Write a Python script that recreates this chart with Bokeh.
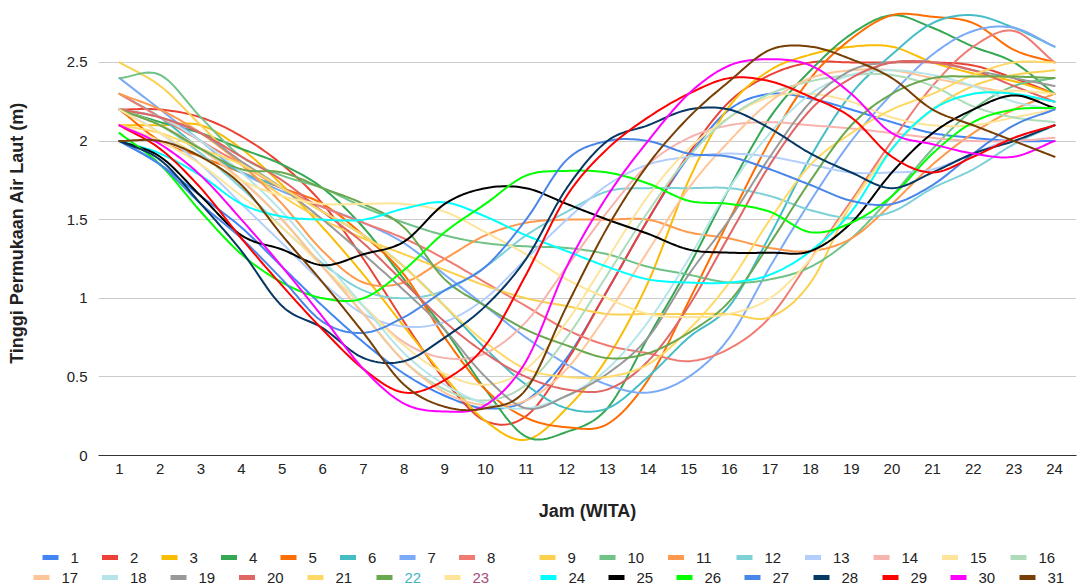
import numpy as np
from bokeh.plotting import figure
from bokeh.models import Range1d, FixedTicker, ColumnDataSource
from bokeh.layouts import column
from bokeh.embed import file_html
from bokeh.resources import INLINE
from bokeh.core.properties import value

# ---------------- data ----------------
HOURS = list(range(1, 25))
DAYS = [str(i) for i in range(1, 32)]
Y_TICKS = [0, 0.5, 1, 1.5, 2, 2.5]
Y_TICK_LABELS = ["0", "0.5", "1", "1.5", "2", "2.5"]

COLORS = ["#4285F4", "#EA4335", "#FBBC04", "#34A853", "#FF6D01", "#46BDC6", "#7BAAF7",
          "#F07B72", "#FCD04F", "#71C287", "#FF994D", "#7ED1D7", "#B3CEFB", "#F7B4AE",
          "#FDE49B", "#AEDCBA", "#FFC599", "#B5E5E8", "#999999", "#E06666", "#FFD966",
          "#6AA84F", "#FFE599", "#00FFFF", "#000000", "#00FF00", "#4A86E8", "#073763",
          "#FF0000", "#FF00FF", "#783F04"]

d01 = [2.00, 1.85, 1.65, 1.45, 1.20, 0.95, 0.72, 0.52, 0.38, 0.30, 0.35, 0.62, 1.05, 1.50, 1.90, 2.20, 2.30, 2.27, 2.20, 2.12, 2.05, 2.02, 2.00, 2.00]
d02 = [2.20, 2.20, 2.15, 2.03, 1.85, 1.60, 1.25, 0.85, 0.48, 0.22, 0.25, 0.60, 1.05, 1.50, 1.92, 2.25, 2.42, 2.50, 2.50, 2.50, 2.50, 2.48, 2.40, 2.30]
d03 = [2.10, 2.10, 2.10, 1.95, 1.72, 1.45, 1.15, 0.82, 0.50, 0.22, 0.10, 0.30, 0.62, 1.10, 1.75, 2.22, 2.45, 2.55, 2.60, 2.60, 2.50, 2.43, 2.38, 2.30]
d04 = [2.20, 2.12, 2.05, 1.95, 1.85, 1.70, 1.45, 1.12, 0.80, 0.42, 0.12, 0.15, 0.30, 0.75, 1.20, 1.70, 2.15, 2.45, 2.68, 2.80, 2.72, 2.60, 2.50, 2.30]
d05 = [2.20, 2.00, 1.90, 1.80, 1.70, 1.60, 1.40, 1.15, 0.75, 0.42, 0.24, 0.18, 0.20, 0.48, 0.98, 1.50, 2.00, 2.40, 2.65, 2.80, 2.79, 2.75, 2.58, 2.50]
d06 = [2.30, 2.15, 1.95, 1.80, 1.70, 1.55, 1.40, 1.20, 0.95, 0.68, 0.45, 0.30, 0.30, 0.50, 0.75, 0.95, 1.40, 1.90, 2.30, 2.55, 2.75, 2.80, 2.72, 2.60]
d07 = [2.40, 2.20, 2.00, 1.80, 1.68, 1.58, 1.48, 1.35, 1.15, 0.95, 0.75, 0.58, 0.45, 0.40, 0.50, 0.75, 1.20, 1.62, 2.00, 2.30, 2.55, 2.70, 2.72, 2.60]
d08 = [2.30, 2.15, 2.00, 1.85, 1.70, 1.58, 1.48, 1.38, 1.25, 1.10, 0.95, 0.80, 0.70, 0.65, 0.60, 0.68, 0.88, 1.25, 1.62, 2.00, 2.35, 2.60, 2.70, 2.50]
d09 = [2.50, 2.35, 2.10, 1.85, 1.65, 1.50, 1.38, 1.28, 1.18, 1.08, 1.00, 0.95, 0.90, 0.90, 0.90, 0.90, 0.88, 1.10, 1.60, 1.95, 2.20, 2.35, 2.42, 2.45]
d10 = [2.40, 2.42, 2.15, 1.90, 1.78, 1.70, 1.58, 1.48, 1.40, 1.35, 1.33, 1.32, 1.28, 1.20, 1.15, 1.10, 1.12, 1.20, 1.38, 1.65, 1.95, 2.20, 2.35, 2.40]
d11 = [2.30, 2.20, 2.05, 1.85, 1.60, 1.30, 1.10, 1.10, 1.25, 1.40, 1.48, 1.50, 1.50, 1.50, 1.42, 1.38, 1.32, 1.30, 1.38, 1.60, 1.85, 2.05, 2.20, 2.30]
d12 = [2.20, 2.10, 1.92, 1.70, 1.45, 1.22, 1.05, 1.00, 1.05, 1.20, 1.40, 1.55, 1.68, 1.70, 1.70, 1.70, 1.65, 1.56, 1.51, 1.55, 1.70, 1.82, 1.98, 2.10]
d13 = [2.20, 2.05, 1.85, 1.60, 1.35, 1.10, 0.90, 0.82, 0.85, 1.00, 1.25, 1.50, 1.72, 1.85, 1.90, 1.92, 1.90, 1.85, 1.80, 1.80, 1.82, 1.92, 2.02, 2.10]
d14 = [2.20, 2.10, 1.95, 1.75, 1.50, 1.20, 0.95, 0.72, 0.62, 0.65, 0.85, 1.20, 1.55, 1.85, 2.02, 2.10, 2.12, 2.10, 2.08, 2.05, 2.02, 2.00, 2.00, 2.02]
d15 = [2.10, 2.00, 1.85, 1.65, 1.45, 1.20, 0.95, 0.70, 0.52, 0.45, 0.55, 0.85, 1.25, 1.65, 1.95, 2.15, 2.28, 2.30, 2.25, 2.15, 2.10, 2.10, 2.15, 2.20]
d16 = [2.20, 2.10, 1.95, 1.75, 1.50, 1.20, 0.90, 0.60, 0.42, 0.35, 0.45, 0.75, 1.15, 1.55, 1.90, 2.15, 2.30, 2.38, 2.42, 2.42, 2.35, 2.22, 2.15, 2.12]
d17 = [2.20, 2.10, 1.95, 1.75, 1.50, 1.20, 0.90, 0.60, 0.40, 0.32, 0.35, 0.55, 0.90, 1.30, 1.70, 2.00, 2.25, 2.40, 2.45, 2.45, 2.40, 2.35, 2.30, 2.25]
d18 = [2.20, 2.15, 2.00, 1.80, 1.55, 1.25, 0.95, 0.65, 0.45, 0.33, 0.30, 0.38, 0.55, 0.85, 1.25, 1.70, 2.05, 2.30, 2.42, 2.45, 2.42, 2.35, 2.25, 2.20]
d19 = [2.20, 2.15, 2.05, 1.87, 1.70, 1.50, 1.28, 1.05, 0.80, 0.50, 0.30, 0.38, 0.52, 0.75, 1.15, 1.50, 1.90, 2.25, 2.45, 2.50, 2.50, 2.45, 2.40, 2.35]
d20 = [2.20, 2.15, 2.05, 1.90, 1.75, 1.55, 1.35, 1.10, 0.85, 0.65, 0.50, 0.42, 0.42, 0.60, 0.95, 1.40, 1.85, 2.20, 2.40, 2.50, 2.50, 2.45, 2.35, 2.25]
d21 = [2.10, 2.05, 1.95, 1.85, 1.70, 1.55, 1.40, 1.20, 0.95, 0.72, 0.55, 0.50, 0.50, 0.58, 0.80, 1.10, 1.50, 1.85, 2.05, 2.20, 2.30, 2.42, 2.50, 2.50]
d22 = [2.20, 2.10, 1.95, 1.82, 1.80, 1.70, 1.60, 1.45, 1.12, 0.95, 0.80, 0.70, 0.62, 0.65, 0.78, 0.98, 1.35, 1.75, 2.10, 2.30, 2.40, 2.41, 2.41, 2.40]
d23 = [2.20, 2.05, 1.90, 1.75, 1.65, 1.60, 1.60, 1.60, 1.55, 1.42, 1.28, 1.12, 1.00, 0.90, 0.88, 0.90, 1.00, 1.25, 1.60, 1.95, 2.20, 2.30, 2.32, 2.30]
d24 = [2.00, 1.92, 1.78, 1.60, 1.52, 1.50, 1.50, 1.57, 1.61, 1.52, 1.40, 1.30, 1.20, 1.12, 1.10, 1.10, 1.15, 1.30, 1.55, 1.95, 2.20, 2.30, 2.30, 2.25]
d25 = [2.00, 1.90, 1.65, 1.40, 1.31, 1.21, 1.28, 1.36, 1.60, 1.70, 1.70, 1.60, 1.50, 1.41, 1.31, 1.29, 1.29, 1.30, 1.48, 1.80, 2.05, 2.20, 2.29, 2.21]
d26 = [2.05, 1.85, 1.55, 1.28, 1.10, 1.00, 1.00, 1.18, 1.42, 1.60, 1.78, 1.81, 1.80, 1.73, 1.62, 1.60, 1.55, 1.42, 1.48, 1.65, 1.92, 2.12, 2.20, 2.21]
d27 = [2.00, 1.85, 1.60, 1.38, 1.12, 0.85, 0.78, 0.88, 1.05, 1.20, 1.50, 1.88, 2.00, 2.00, 1.92, 1.90, 1.82, 1.72, 1.62, 1.60, 1.72, 1.92, 2.10, 2.20]
d28 = [2.00, 1.88, 1.60, 1.30, 0.95, 0.81, 0.62, 0.60, 0.75, 0.95, 1.25, 1.70, 2.00, 2.10, 2.20, 2.20, 2.08, 1.92, 1.80, 1.70, 1.80, 1.92, 2.00, 2.10]
d29 = [2.10, 1.95, 1.70, 1.38, 1.08, 0.80, 0.55, 0.40, 0.48, 0.70, 1.15, 1.65, 1.95, 2.15, 2.30, 2.40, 2.38, 2.28, 2.15, 1.90, 1.80, 1.90, 2.02, 2.10]
d30 = [2.10, 1.98, 1.78, 1.50, 1.20, 0.88, 0.55, 0.33, 0.28, 0.32, 0.60, 1.20, 1.65, 2.00, 2.30, 2.48, 2.52, 2.48, 2.30, 2.05, 1.98, 1.92, 1.90, 2.00]
d31 = [2.00, 2.00, 1.90, 1.72, 1.40, 1.10, 0.78, 0.45, 0.31, 0.30, 0.42, 0.95, 1.45, 1.85, 2.15, 2.38, 2.58, 2.60, 2.52, 2.40, 2.20, 2.10, 2.00, 1.90]

SERIES = [d01, d02, d03, d04, d05, d06, d07, d08, d09, d10, d11, d12, d13, d14, d15, d16,
          d17, d18, d19, d20, d21, d22, d23, d24, d25, d26, d27, d28, d29, d30, d31]

# ---------------- layout / style constants ----------------
FONT = "Liberation Sans"
TEXT = "#222222"
MAIN_H = 525
LEG_H = 61
# swatch left edges (page px) of the legend entries, and their row centres (page px)
LEG_LEFT = [42, 101.5, 161, 220.5, 280, 339.5, 399, 458.5,
            539, 599, 667.5, 736, 804.5, 873, 941.5, 1010,
            33, 101.5, 170, 238.5, 307, 376, 444,
            540, 608, 676, 744, 813, 882, 950, 1019]
LEG_ROW = [557] * 16 + [577] * 15
LEG_TEXT_COLORS = [TEXT] * 31
LEG_TEXT_COLORS[21] = "#46B4C4"
LEG_TEXT_COLORS[22] = "#A64D79"


def smooth(xs, ys, n=14):
    """Catmull-Rom curve through the data points (rendering only)."""
    x = np.asarray(xs, float)
    y = np.asarray(ys, float)
    px = np.r_[2 * x[0] - x[1], x, 2 * x[-1] - x[-2]]
    py = np.r_[2 * y[0] - y[1], y, 2 * y[-1] - y[-2]]
    t = np.linspace(0, 1, n, endpoint=False)[:, None]

    def cr(p):
        p0, p1, p2, p3 = p[:-3], p[1:-2], p[2:-1], p[3:]
        return 0.5 * (2 * p1 + (p2 - p0) * t + (2 * p0 - 5 * p1 + 4 * p2 - p3) * t ** 2
                      + (3 * p1 - p0 - 3 * p2 + p3) * t ** 3)

    X = np.r_[cr(px).T.ravel(), x[-1]]
    Y = np.r_[cr(py).T.ravel(), y[-1]]
    return X, Y


# ---------------- main chart ----------------
p = figure(width=1092, height=MAIN_H,
           x_range=Range1d(0.483, 24.54), y_range=Range1d(0, 2.83),
           output_backend="svg", toolbar_location=None,
           min_border_left=98, min_border_right=16, min_border_top=10, min_border_bottom=70)
p.frame_align = False
p.outline_line_color = None
p.background_fill_color = "white"
p.border_fill_color = "white"

p.xgrid.grid_line_color = None
p.ygrid.ticker = FixedTicker(ticks=Y_TICKS)
p.ygrid.grid_line_color = "#cccccc"
p.ygrid.grid_line_width = 1

p.xaxis.ticker = FixedTicker(ticks=HOURS)
p.yaxis.ticker = FixedTicker(ticks=Y_TICKS)
p.yaxis.major_label_overrides = {t: lab for t, lab in zip(Y_TICKS, Y_TICK_LABELS)}

for ax in (p.xaxis, p.yaxis):
    ax.major_tick_line_color = None
    ax.minor_tick_line_color = None
    ax.major_label_text_font = FONT
    ax.major_label_text_font_size = "15px"
    ax.major_label_text_color = TEXT
    ax.axis_label_text_font = FONT
    ax.axis_label_text_font_size = "18px"
    ax.axis_label_text_font_style = "bold"
    ax.axis_label_text_color = TEXT

p.yaxis.axis_line_color = None
p.yaxis.major_label_standoff = 5
p.yaxis.axis_label = "Tinggi Permukaan Air Laut (m)"
p.yaxis.axis_label_standoff = 37

p.xaxis.axis_line_color = "#333333"
p.xaxis.axis_line_width = 1
p.xaxis.major_label_standoff = 2
p.xaxis.axis_label = "Jam (WITA)"
p.xaxis.axis_label_standoff = 24

for day, color, vals in zip(DAYS, COLORS, SERIES):
    sx, sy = smooth(HOURS, vals)
    src = ColumnDataSource(dict(x=sx, y=sy))
    p.line("x", "y", source=src, line_color=color, line_width=2,
           line_join="round", line_cap="round")

# ---------------- legend strip (page-pixel coordinates) ----------------
lg = figure(width=1092, height=LEG_H,
            x_range=Range1d(0, 1092), y_range=Range1d(MAIN_H + LEG_H, MAIN_H),
            output_backend="svg", toolbar_location=None,
            min_border=0, min_border_left=0, min_border_right=0,
            min_border_top=0, min_border_bottom=0,
            x_axis_type=None, y_axis_type=None)
lg.frame_align = False
lg.outline_line_color = None
lg.background_fill_color = "white"
lg.border_fill_color = "white"

leg_src = ColumnDataSource(dict(
    sx=[v + 8 for v in LEG_LEFT],
    tx=[v + 28 for v in LEG_LEFT],
    y=LEG_ROW,
    label=DAYS,
    color=COLORS,
    tcolor=LEG_TEXT_COLORS,
))
lg.rect(x="sx", y="y", width=16, height=5, source=leg_src,
        fill_color="color", line_color=None)
lg.text(x="tx", y="y", text="label", source=leg_src, text_color="tcolor",
        text_font=value(FONT), text_font_size=value("15px"),
        text_baseline="middle", text_align="left")

layout = column(p, lg, spacing=0)
open("out.html", "w").write(file_html(layout, INLINE))
